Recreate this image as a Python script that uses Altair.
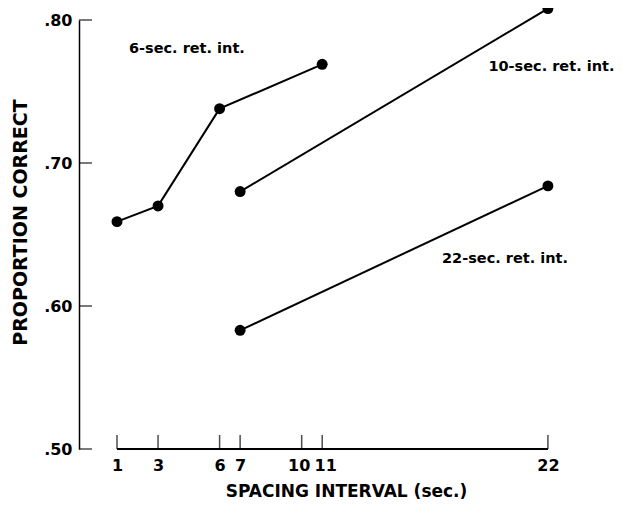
import altair as alt
import pandas as pd

series_names = ["6-sec. ret. int.", "10-sec. ret. int.", "22-sec. ret. int."]
ret6_x = [1, 3, 6, 11]
ret6_y = [0.659, 0.670, 0.738, 0.769]
ret10_x = [7, 22]
ret10_y = [0.680, 0.808]
ret22_x = [7, 22]
ret22_y = [0.583, 0.684]
x_ticks = [1, 3, 6, 7, 10, 11, 22]
y_ticks = [0.50, 0.60, 0.70, 0.80]
label_x = [1.58, 19.1, 16.84]
label_y = [0.780, 0.767, 0.633]

rows = []
for name, xv, yv in zip(series_names, [ret6_x, ret10_x, ret22_x], [ret6_y, ret10_y, ret22_y]):
    for a, b in zip(xv, yv):
        rows.append({"series": name, "x": a, "y": b})
df = pd.DataFrame(rows)
lab_df = pd.DataFrame({"label": series_names, "lx": label_x, "ly": label_y})
xt_df = pd.DataFrame({"x": x_ticks})
yt_df = pd.DataFrame({"y": y_ticks})

X_DOMAIN = [-0.852, 24.49]
Y_DOMAIN = [0.5, 0.8]
xs = alt.Scale(domain=X_DOMAIN, nice=False, zero=False)
ys = alt.Scale(domain=Y_DOMAIN, nice=False, zero=False)
FONT = "DejaVu Sans"

x_axis = alt.Axis(values=x_ticks, domain=False, ticks=False, grid=False,
                  labelOverlap=False,
                  labelOffset={"condition": [{"test": "datum.value == 10", "value": -3},
                                             {"test": "datum.value == 11", "value": 3}],
                               "value": 0},
                  labelFontSize=16, labelFontWeight="bold", labelPadding=8,
                  labelFont=FONT, labelColor="black",
                  title="SPACING INTERVAL (sec.)", titleFontSize=17, titleFont=FONT,
                  titleFontWeight="bold", titleColor="black",
                  titleX=267, titleY=47, titleBaseline="alphabetic")
y_axis = alt.Axis(values=y_ticks, ticks=False, grid=False, domain=True,
                  labelOverlap=False,
                  domainColor="black", domainWidth=1.5, labelPadding=7,
                  labelFontSize=16, labelFontWeight="bold", labelFont=FONT, labelColor="black",
                  labelExpr="replace(format(datum.value, '.2f'), '0.', '.')",
                  title="PROPORTION CORRECT", titleFontSize=19, titleFont=FONT,
                  titleFontWeight="bold", titleColor="black",
                  titleX=-53, titleY=202, titleBaseline="alphabetic", titleAngle=-90)

lines = alt.Chart(df).mark_line(color="black", strokeWidth=2).encode(
    x=alt.X("x:Q", scale=xs, axis=x_axis),
    y=alt.Y("y:Q", scale=ys, axis=y_axis),
    detail="series:N",
)
points = alt.Chart(df).mark_circle(color="black", size=120, opacity=1).encode(
    x=alt.X("x:Q", scale=xs, axis=x_axis),
    y=alt.Y("y:Q", scale=ys, axis=y_axis),
)
xticks = alt.Chart(xt_df).mark_tick(orient="vertical", color="black", thickness=1.5,
                                    size=14, yOffset=-7).encode(
    x=alt.X("x:Q", scale=xs, axis=x_axis),
    y=alt.YDatum(Y_DOMAIN[0], scale=ys, axis=y_axis),
)
yticks = alt.Chart(yt_df).mark_tick(orient="horizontal", color="black", thickness=1.5,
                                    size=13, xOffset=6.5).encode(
    y=alt.Y("y:Q", scale=ys, axis=y_axis),
    x=alt.XDatum(X_DOMAIN[0], scale=xs, axis=x_axis),
)
xbase = alt.Chart(xt_df).mark_rule(color="black", strokeWidth=1.5).encode(
    x=alt.XDatum(x_ticks[0], scale=xs, axis=x_axis),
    x2=alt.X2Datum(x_ticks[-1]),
    y=alt.YDatum(Y_DOMAIN[0], scale=ys, axis=y_axis),
)
labels = alt.Chart(lab_df).mark_text(align="left", baseline="middle", fontSize=14.5,
                                     fontWeight="bold", font=FONT, color="black").encode(
    x=alt.X("lx:Q", scale=xs, axis=x_axis),
    y=alt.Y("ly:Q", scale=ys, axis=y_axis),
    text="label:N",
)

chart = alt.layer(lines, points, xticks, yticks, xbase, labels).properties(
    width=520, height=429,
    autosize=alt.AutoSizeParams(type="none"),
    padding={"left": 71, "top": 12, "right": 15, "bottom": 52},
).configure_view(stroke=None)

chart.save("out.html", embed_options={"renderer": "svg", "actions": False})
